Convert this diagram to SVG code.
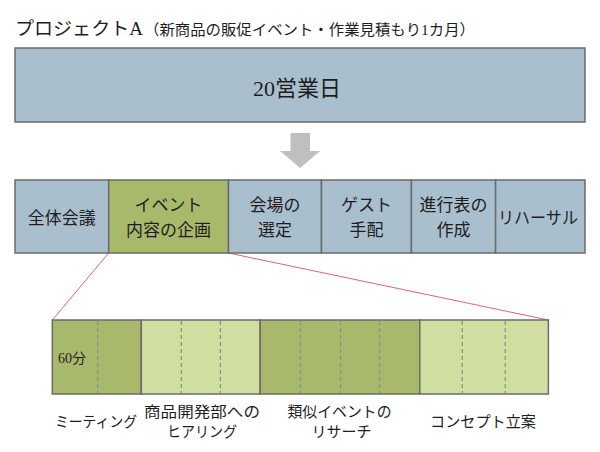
<svg xmlns="http://www.w3.org/2000/svg" width="600" height="452" viewBox="0 0 600 452">
<style>
text{font-family:"Liberation Serif","Noto Sans CJK JP",serif;fill:#1e1e1e;text-anchor:middle}
.blue{fill:#a9bfce;stroke:#6b6b6b;stroke-width:1.5}
.dg{fill:#a9b96c;stroke:#6b6b6b;stroke-width:1.5}
.lg{fill:#d0dea2;stroke:#6b6b6b;stroke-width:1.5}
.dash{stroke:#8c8c8c;stroke-width:1.2;stroke-dasharray:4 3}
.red{stroke:#e06666;stroke-width:1;fill:none}
.r{font-size:17px}
.b{font-size:15px}
</style>
<rect width="600" height="452" fill="#fff"/>
<g id="title">
<text x="15" y="35" style="text-anchor:start;font-size:18px" textLength="128" lengthAdjust="spacingAndGlyphs">プロジェクトA</text>
<text x="144" y="35" style="text-anchor:start;font-size:15px" textLength="331" lengthAdjust="spacingAndGlyphs">（新商品の販促イベント・作業見積もり1カ月）</text>
</g>
<g id="total">
<rect class="blue" x="15" y="48" width="570" height="74"/>
<text x="297" y="96" style="font-size:22px">20営業日</text>
</g>
<g id="arrow">
<polygon points="290.5,133 310,133 310,151 320,151 300.2,168 280,151 290.5,151" fill="#bfbfbf"/>
</g>
<g id="connectors">
<line class="red" x1="108.7" y1="253" x2="52.3" y2="320"/>
<line class="red" x1="228.5" y1="253" x2="548.4" y2="320"/>
</g>
<g id="n1"><rect class="blue" x="15" y="180" width="93.7" height="73"/><text class="r" x="61.8" y="224">全体会議</text></g>
<g id="n2"><rect class="dg" x="108.7" y="180" width="119.8" height="73"/><text class="r" x="168.6" y="211">イベント</text><text class="r" x="168.6" y="236">内容の企画</text></g>
<g id="n3"><rect class="blue" x="228.5" y="180" width="93" height="73"/><text class="r" x="275" y="211">会場の</text><text class="r" x="275" y="236">選定</text></g>
<g id="n4"><rect class="blue" x="321.5" y="180" width="89.9" height="73"/><text class="r" x="366.5" y="211">ゲスト</text><text class="r" x="366.5" y="236">手配</text></g>
<g id="n5"><rect class="blue" x="411.4" y="180" width="84.2" height="73"/><text class="r" x="453.5" y="211">進行表の</text><text class="r" x="453.5" y="236">作成</text></g>
<g id="n6"><rect class="blue" x="495.6" y="180" width="89.4" height="73"/><text class="r" x="538" y="224" textLength="80" lengthAdjust="spacingAndGlyphs">リハーサル</text></g>
<g id="s1">
<rect class="dg" x="52.3" y="320" width="89" height="74"/>
<line class="dash" x1="97.7" y1="321" x2="97.7" y2="393"/>
<text x="58" y="363" style="text-anchor:start;font-size:14px">60分</text>
<text class="b" x="96" y="427" textLength="82" lengthAdjust="spacingAndGlyphs">ミーティング</text>
</g>
<g id="s2">
<rect class="lg" x="141.3" y="320" width="118.9" height="74"/>
<line class="dash" x1="181.4" y1="321" x2="181.4" y2="393"/>
<line class="dash" x1="220.4" y1="321" x2="220.4" y2="393"/>
<text class="b" x="202" y="417" textLength="116" lengthAdjust="spacingAndGlyphs">商品開発部への</text>
<text class="b" x="202" y="437" textLength="70" lengthAdjust="spacingAndGlyphs">ヒアリング</text>
</g>
<g id="s3">
<rect class="dg" x="260.2" y="320" width="159.6" height="74"/>
<line class="dash" x1="300.4" y1="321" x2="300.4" y2="393"/>
<line class="dash" x1="340.6" y1="321" x2="340.6" y2="393"/>
<line class="dash" x1="379.6" y1="321" x2="379.6" y2="393"/>
<text class="b" x="339.5" y="417" textLength="104" lengthAdjust="spacingAndGlyphs">類似イベントの</text>
<text class="b" x="341.5" y="437" textLength="60" lengthAdjust="spacingAndGlyphs">リサーチ</text>
</g>
<g id="s4">
<rect class="lg" x="419.8" y="320" width="128.6" height="74"/>
<line class="dash" x1="462.3" y1="321" x2="462.3" y2="393"/>
<line class="dash" x1="505.2" y1="321" x2="505.2" y2="393"/>
<text class="b" x="483" y="427" textLength="106" lengthAdjust="spacingAndGlyphs">コンセプト立案</text>
</g>
</svg>
